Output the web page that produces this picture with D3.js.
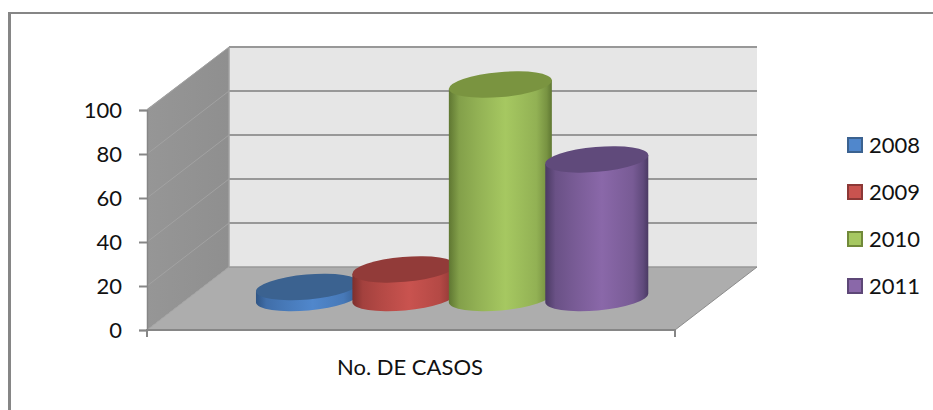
<!DOCTYPE html>
<html><head><meta charset="utf-8">
<script src="https://cdn.jsdelivr.net/npm/d3@7"></script>
<style>html,body{margin:0;padding:0;background:#fff}svg{display:block}text{font-family:Lato,sans-serif;fill:#111}</style>
</head><body><div id="c"></div>
<script>
const years = ["2008","2009","2010","2011"];
const casos = [5, 13, 97, 63];
const yTicks = [0,20,40,60,80,100];
const category = "No. DE CASOS";
const topColors = ["#3b6290","#923b39","#7a9440","#604a7b"];
const darkColors = ["#2f5585","#7d2f2d","#5f7732","#4a3a63"];
const midColors = ["#5087cc","#c9534f","#a6c861","#8a68a9"];
const swatchEdge = ["#3b6290","#8c3836","#71893a","#5d4777"];

const W=933,H=410;
const svg=d3.select("#c").append("svg").attr("width",W).attr("height",H);
const defs=svg.append("defs");

// plot frame (front plane + depth offset)
const fx0=147,fx1=675,fy0=330,fy1=110,dx=82,dy=-63;
const y=d3.scaleLinear().domain([0,100]).range([fy0,fy1]);
const cBand=d3.scaleBand().domain(years).range([259.25,645]).padding(0);
const midY=v=>y(v)+dy/2-0.5;

// chart border
svg.append("path").attr("d",`M9.5,${H} V13`).attr("fill","none").attr("stroke","#868686").attr("stroke-width",3);
svg.append("path").attr("d",`M8,13 H${W}`).attr("fill","none").attr("stroke","#868686").attr("stroke-width",2);

// walls
const poly=p=>"M"+p.map(d=>d.join(",")).join("L")+"Z";
const sideGrad=defs.append("linearGradient").attr("id","side");
sideGrad.append("stop").attr("offset",0).attr("stop-color","#969696");
sideGrad.append("stop").attr("offset",1).attr("stop-color","#8f8f8f");
svg.append("path").attr("d",poly([[fx0,y(100)-1],[fx0+dx,y(100)+dy],[fx0+dx,y(0)+dy],[fx0,y(0)]])).attr("fill","url(#side)");
svg.append("path").attr("d",poly([[fx0+dx,y(100)+dy],[fx1+dx,y(100)+dy],[fx1+dx,y(0)+dy],[fx0+dx,y(0)+dy]])).attr("fill","#e6e6e6");
svg.append("path").attr("d",poly([[fx0,y(0)],[fx0+dx,y(0)+dy],[fx1+dx,y(0)+dy],[fx1,y(0)]])).attr("fill","#adadad");

// gridlines
yTicks.forEach(t=>{
  svg.append("line").attr("x1",fx0+dx).attr("x2",fx1+dx).attr("y1",y(t)+dy).attr("y2",y(t)+dy).attr("stroke","#989898").attr("stroke-width",t===0?1.5:2);
  svg.append("line").attr("x1",fx0).attr("x2",fx0+dx).attr("y1",y(t)).attr("y2",y(t)+dy).attr("stroke","#a2a2a2").attr("stroke-width",1);
});
svg.append("line").attr("x1",fx0+dx).attr("x2",fx0+dx).attr("y1",y(100)+dy).attr("y2",y(0)+dy).attr("stroke","#a0a0a0").attr("stroke-width",1.5);
svg.append("line").attr("x1",fx1).attr("x2",fx1+dx).attr("y1",y(0)).attr("y2",y(0)+dy).attr("stroke","#8c8c8c").attr("stroke-width",1);

// axes
const yAxis=svg.append("g").attr("transform",`translate(${fx0},0)`).call(d3.axisLeft(y).tickValues(yTicks).tickSize(8).tickPadding(17));
yAxis.select(".domain").attr("stroke","#868686").attr("stroke-width",1.5);
yAxis.selectAll("line").attr("stroke","#868686").attr("stroke-width",2);
yAxis.selectAll("text").style("font-size","22px").style("font-family","Lato,sans-serif").attr("fill","#111");

const xs=d3.scalePoint().domain([category]).range([(fx0+fx1)/2,(fx0+fx1)/2]);
const xAxis=svg.append("g").attr("transform",`translate(-1.5,${fy0})`).call(d3.axisBottom(xs).tickSize(0).tickPadding(29));
xAxis.select(".domain").remove();
xAxis.selectAll("text").style("font-size","22px").style("font-family","Lato,sans-serif").attr("fill","#111");
svg.append("path").attr("d",`M${fx0},${fy0+7}V${fy0}H${fx1}V${fy0+7}`).attr("fill","none").attr("stroke","#868686").attr("stroke-width",2);

// cylinders
const rx=51.5, ry=12.5, tilt=5;
const rad=tilt*Math.PI/180, hx=rx, hy=rx*Math.tan(rad);
years.forEach((yr,i)=>{
  const g=defs.append("linearGradient").attr("id","g"+i);
  const mix=d3.interpolateRgb(darkColors[i],midColors[i]);
  [[0,darkColors[i]],[.1,mix(.5)],[.28,mix(.72)],[.55,midColors[i]],[.85,mix(.72)],[.95,mix(.35)],[1,darkColors[i]]]
    .forEach(s=>g.append("stop").attr("offset",s[0]).attr("stop-color",s[1]));
  const cx=cBand(yr)+cBand.bandwidth()/2, ty=midY(casos[i]), by=midY(0);
  const a=rx/Math.cos(rad);
  svg.append("path")
    .attr("d",`M${cx-hx},${ty+hy} V${by+hy} A${a},${ry} ${-tilt} 0 0 ${cx+hx},${by-hy} V${ty-hy} Z`)
    .attr("fill",`url(#g${i})`);
  svg.append("ellipse").attr("cx",0).attr("cy",0).attr("rx",a).attr("ry",ry)
    .attr("transform",`translate(${cx},${ty}) rotate(${-tilt})`).attr("fill",topColors[i]);
});

// legend
const ly=d3.scalePoint().domain(years).range([145,286]);
const leg=svg.append("g").selectAll("g").data(years).join("g").attr("transform",d=>`translate(0,${ly(d)})`);
leg.append("rect").attr("x",848).attr("y",-7).attr("width",14).attr("height",14)
  .attr("fill",(d,i)=>midColors[i]).attr("stroke",(d,i)=>swatchEdge[i]).attr("stroke-width",2);
leg.append("text").attr("x",869).attr("dy","0.36em").style("font-size","22px").text(d=>d);
</script></body></html>
